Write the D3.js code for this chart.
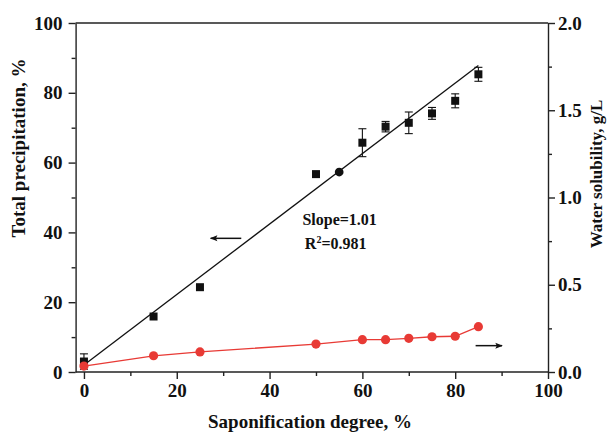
<!DOCTYPE html>
<html>
<head>
<meta charset="utf-8">
<script src="https://cdn.jsdelivr.net/npm/d3@7"></script>
<style>
  body { margin: 0; background: #fff; }
  svg text { font-family: "Liberation Serif", "Times New Roman", serif; font-weight: bold; fill: #111; }
  .axis path, .axis line { stroke: #222; stroke-width: 1.4px; }
</style>
</head>
<body>
<div class="chart"></div>
<script>
// data
var degree = [0, 15, 25, 50, 55, 60, 65, 70, 75, 80, 85],
    precipitation = [3.0, 15.9, 24.3, 56.7, 57.3, 65.7, 70.3, 71.4, 74.1, 77.7, 85.3],
    precipError = [2.2, 0, 0, 0, 0, 4.0, 1.5, 3.1, 1.7, 2.0, 2.0],
    precipMarker = ['square', 'square', 'square', 'square', 'circle', 'square', 'square', 'square', 'square', 'square', 'square'];
var solDegree = [0, 15, 25, 50, 60, 65, 70, 75, 80, 85],
    solubility = [0.034, 0.093, 0.115, 0.16, 0.185, 0.185, 0.193, 0.202, 0.205, 0.26];
var fitSlope = 1.01,
    fitIntercept = 2.0,
    fitRange = [0, 85];
var xTicks = [0, 20, 40, 60, 80, 100],
    xMinor = [10, 30, 50, 70, 90],
    leftTicks = [0, 20, 40, 60, 80, 100],
    leftMinor = [10, 30, 50, 70, 90],
    rightTicks = [0, 0.5, 1.0, 1.5, 2.0],
    rightMinor = [0.25, 0.75, 1.25, 1.75];
var leftArrow = { from: 33.9, to: 27.3, y: 38.3 },
    rightArrow = { from: 84.4, to: 90.1, y: 0.151 };

var width = 607,
    height = 432,
    area = { x1: 75.6, y1: 23, x2: 548, y2: 372 },
    red = '#e83a35';

var x = d3.scaleLinear().domain([-1.8, 100]).range([area.x1, area.x2]),
    yL = d3.scaleLinear().domain([0, 100]).range([area.y2, area.y1]),
    yR = d3.scaleLinear().domain([0, 2]).range([area.y2, area.y1]);

var svg = d3.select('.chart')
  .append('svg')
    .attr('width', width)
    .attr('height', height);

var defs = svg.append('defs');
defs.append('marker')
    .attr('id', 'head')
    .attr('viewBox', '0 0 10 10')
    .attr('refX', 9)
    .attr('refY', 5)
    .attr('markerWidth', 6)
    .attr('markerHeight', 5)
    .attr('markerUnits', 'strokeWidth')
    .attr('orient', 'auto')
  .append('path')
    .attr('d', 'M0,1 L10,5 L0,9 L2,5 Z')
    .attr('fill', '#111');

// top frame line
svg.append('line')
    .attr('x1', area.x1).attr('x2', area.x2)
    .attr('y1', area.y1).attr('y2', area.y1)
    .attr('stroke', '#222').attr('stroke-width', 1.4);

function styleTicks(g, size) {
  g.selectAll('text').style('font-size', size + 'px').attr('fill', '#111');
}

// bottom axis
svg.append('g').attr('class', 'axis')
    .attr('transform', 'translate(0,' + area.y2 + ')')
    .call(d3.axisBottom(x).tickValues(xTicks).tickSize(7).tickSizeOuter(0).tickPadding(5))
    .call(styleTicks, 19)
    .call(function(g) { g.select('.domain').attr('d', 'M' + area.x1 + ',0H' + area.x2); });
svg.append('g').attr('class', 'axis')
    .attr('transform', 'translate(0,' + area.y2 + ')')
    .call(d3.axisBottom(x).tickValues(xMinor).tickSize(4).tickFormat(''))
    .call(function(g) { g.select('.domain').remove(); });

// left axis
svg.append('g').attr('class', 'axis')
    .attr('transform', 'translate(' + area.x1 + ',0)')
    .call(d3.axisLeft(yL).tickValues(leftTicks).tickSize(7).tickSizeOuter(0).tickPadding(6))
    .call(styleTicks, 19);
svg.append('g').attr('class', 'axis')
    .attr('transform', 'translate(' + area.x1 + ',0)')
    .call(d3.axisLeft(yL).tickValues(leftMinor).tickSize(4).tickFormat(''))
    .call(function(g) { g.select('.domain').remove(); });

// right axis
svg.append('g').attr('class', 'axis')
    .attr('transform', 'translate(' + area.x2 + ',0)')
    .call(d3.axisRight(yR).tickValues(rightTicks).tickSize(7).tickSizeOuter(0).tickPadding(3).tickFormat(d3.format('.1f')))
    .call(styleTicks, 19);
svg.append('g').attr('class', 'axis')
    .attr('transform', 'translate(' + area.x2 + ',0)')
    .call(d3.axisRight(yR).tickValues(rightMinor).tickSize(4).tickFormat(''))
    .call(function(g) { g.select('.domain').remove(); });

// axis titles
svg.append('text')
    .attr('transform', 'translate(25,148) rotate(-90)')
    .attr('text-anchor', 'middle')
    .style('font-size', '19px')
    .text('Total precipitation, %');
svg.append('text')
    .attr('transform', 'translate(602,174) rotate(-90)')
    .attr('text-anchor', 'middle')
    .style('font-size', '17px')
    .text('Water solubility, g/L');
svg.append('text')
    .attr('x', 310)
    .attr('y', 428)
    .attr('text-anchor', 'middle')
    .style('font-size', '19px')
    .text('Saponification degree, %');

// linear fit
svg.append('line')
    .attr('x1', x(fitRange[0])).attr('y1', yL(fitIntercept + fitSlope * fitRange[0]))
    .attr('x2', x(fitRange[1])).attr('y2', yL(fitIntercept + fitSlope * fitRange[1]))
    .attr('stroke', '#111').attr('stroke-width', 1.3);

// error bars
var precip = degree.map(function(d, i) {
  return { x: d, y: precipitation[i], e: precipError[i], m: precipMarker[i] };
});
var bars = svg.append('g').attr('stroke', '#111').attr('stroke-width', 1.1)
  .selectAll('g').data(precip.filter(function(d) { return d.e > 0; }))
  .enter().append('g');
bars.append('line')
    .attr('x1', function(d) { return x(d.x); }).attr('x2', function(d) { return x(d.x); })
    .attr('y1', function(d) { return yL(d.y - d.e); }).attr('y2', function(d) { return yL(d.y + d.e); });
bars.selectAll('line.cap')
    .data(function(d) { return [[d.x, d.y - d.e], [d.x, d.y + d.e]]; })
  .enter().append('line')
    .attr('class', 'cap')
    .attr('x1', function(d) { return x(d[0]) - 4; }).attr('x2', function(d) { return x(d[0]) + 4; })
    .attr('y1', function(d) { return yL(d[1]); }).attr('y2', function(d) { return yL(d[1]); });

// precipitation markers
svg.append('g').selectAll('path').data(precip)
  .enter().append('path')
    .attr('transform', function(d) { return 'translate(' + x(d.x) + ',' + yL(d.y) + ')'; })
    .attr('d', function(d) {
      return d3.symbol().type(d.m === 'circle' ? d3.symbolCircle : d3.symbolSquare).size(d.m === 'circle' ? 60 : 64)();
    })
    .attr('fill', '#111');

// solubility line + markers
var sol = solDegree.map(function(d, i) { return [d, solubility[i]]; });
svg.append('path')
    .datum(sol)
    .attr('fill', 'none')
    .attr('stroke', red)
    .attr('stroke-width', 1.3)
    .attr('d', d3.line().x(function(d) { return x(d[0]); }).y(function(d) { return yR(d[1]); }));
svg.append('g').selectAll('circle').data(sol)
  .enter().append('circle')
    .attr('cx', function(d) { return x(d[0]); })
    .attr('cy', function(d) { return yR(d[1]); })
    .attr('r', 4.6)
    .attr('fill', red);

// arrows
svg.append('line')
    .attr('x1', x(leftArrow.from)).attr('x2', x(leftArrow.to))
    .attr('y1', yL(leftArrow.y)).attr('y2', yL(leftArrow.y))
    .attr('stroke', '#111').attr('stroke-width', 1.5)
    .attr('marker-end', 'url(#head)');
svg.append('line')
    .attr('x1', x(rightArrow.from)).attr('x2', x(rightArrow.to))
    .attr('y1', yR(rightArrow.y)).attr('y2', yR(rightArrow.y))
    .attr('stroke', '#111').attr('stroke-width', 1.5)
    .attr('marker-end', 'url(#head)');

// fit annotation
svg.append('text')
    .attr('x', x(55.1))
    .attr('y', yL(42.1))
    .attr('text-anchor', 'middle')
    .style('font-size', '16px')
    .text('Slope=1.01');
var r2 = svg.append('text')
    .attr('x', x(47.6))
    .attr('y', yL(35.2))
    .style('font-size', '16px');
r2.append('tspan').text('R');
r2.append('tspan').attr('dy', -6).style('font-size', '10px').text('2');
r2.append('tspan').attr('dy', 6).text('=0.981');
</script>
</body>
</html>
